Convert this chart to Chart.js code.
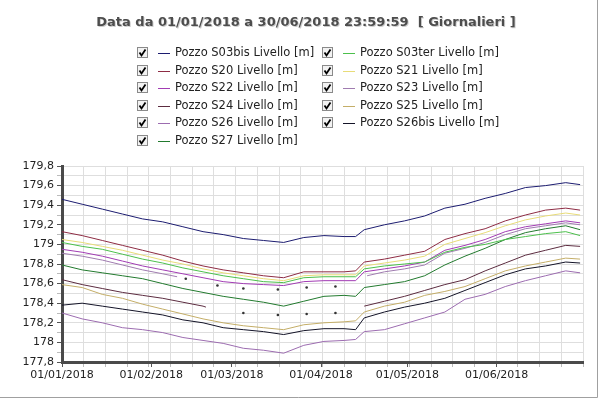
<!DOCTYPE html>
<html>
<head>
<meta charset="utf-8">
<script src="https://cdn.jsdelivr.net/npm/chart.js@4.4.1/dist/chart.umd.min.js"></script>
<style>
html, body { margin: 0; padding: 0; background: #fff; }
#wrap { width: 600px; height: 400px; }
</style>
</head>
<body>
<div id="wrap"><canvas id="chart" width="600" height="400"></canvas></div>
<script>
const titleText = 'Data da 01/01/2018 a 30/06/2018 23:59:59  [ Giornalieri ]';

// days from 01/01/2018
const days = [0, 7, 14, 21, 28, 35, 42, 49, 56, 63, 70, 77, 84, 91, 98, 102, 105, 112, 119, 126, 133, 140, 147, 154, 161, 168, 175, 180];

const s03bis = [179.46, 179.41, 179.36, 179.31, 179.26, 179.23, 179.18, 179.13, 179.10, 179.06, 179.04, 179.02, 179.07, 179.09, 179.08, 179.08, 179.15, 179.20, 179.24, 179.29, 179.37, 179.41, 179.47, 179.52, 179.58, 179.60, 179.63, 179.61];
const s03ter = [179.02, 178.98, 178.95, 178.90, 178.85, 178.81, 178.76, 178.72, 178.68, 178.65, 178.62, 178.61, 178.66, 178.67, 178.67, 178.67, 178.75, 178.78, 178.80, 178.82, 178.92, 178.97, 179.00, 179.05, 179.08, 179.11, 179.13, 179.09];
const s20 = [179.13, 179.09, 179.04, 178.99, 178.94, 178.89, 178.83, 178.78, 178.74, 178.71, 178.68, 178.66, 178.72, 178.72, 178.72, 178.73, 178.82, 178.85, 178.89, 178.93, 179.05, 179.11, 179.16, 179.24, 179.30, 179.35, 179.37, 179.35];
const s21 = [179.05, 179.02, 178.98, 178.94, 178.89, 178.84, 178.80, 178.75, 178.71, 178.68, 178.65, 178.63, 178.68, 178.69, 178.69, 178.69, 178.78, 178.81, 178.84, 178.88, 179.00, 179.06, 179.12, 179.19, 179.25, 179.29, 179.32, 179.30];
const s22 = [178.95, 178.92, 178.88, 178.83, 178.78, 178.74, 178.70, 178.66, 178.62, 178.60, 178.59, 178.58, 178.62, 178.63, 178.63, 178.63, 178.72, 178.75, 178.78, 178.82, 178.94, 178.99, 179.05, 179.13, 179.18, 179.21, 179.24, 179.22];

// S23 and S24 have holes (null) and isolated readings in Feb-Apr
const s23Days = [0, 7, 14, 21, 28, 35, 40, 42, 43, 48, 54, 58, 63, 69, 75, 80, 85, 90, 95, 100, 106, 112, 119, 126, 133, 140, 147, 154, 161, 168, 175, 180];
const s23 = [178.91, 178.88, 178.84, 178.79, 178.74, 178.70, 178.67, null, 178.65, null, 178.58, null, 178.55, null, 178.54, null, 178.56, null, 178.57, null, 178.68, 178.72, 178.75, 178.79, 178.91, 178.96, 179.02, 179.10, 179.16, 179.19, 179.22, 179.20];
const s24Days = [0, 7, 14, 21, 28, 35, 42, 49, 50, 56, 63, 69, 75, 80, 85, 90, 95, 100, 105, 112, 119, 126, 133, 140, 147, 154, 161, 168, 175, 180];
const s24 = [178.64, 178.59, 178.55, 178.51, 178.48, 178.45, 178.41, 178.37, 178.36, null, 178.30, null, 178.28, null, 178.29, null, 178.30, null, 178.37, 178.42, 178.47, 178.53, 178.59, 178.64, 178.73, 178.81, 178.89, 178.94, 178.99, 178.98];

const s25 = [178.59, 178.56, 178.49, 178.45, 178.39, 178.34, 178.29, 178.24, 178.20, 178.17, 178.15, 178.13, 178.18, 178.20, 178.21, 178.22, 178.31, 178.37, 178.41, 178.48, 178.52, 178.57, 178.65, 178.73, 178.78, 178.82, 178.86, 178.85];
const s26 = [178.30, 178.24, 178.20, 178.15, 178.13, 178.10, 178.05, 178.02, 177.99, 177.94, 177.92, 177.89, 177.97, 178.01, 178.02, 178.03, 178.11, 178.13, 178.19, 178.25, 178.31, 178.44, 178.49, 178.57, 178.63, 178.68, 178.73, 178.71];
const s26bis = [178.38, 178.40, 178.37, 178.34, 178.31, 178.28, 178.23, 178.20, 178.15, 178.13, 178.11, 178.08, 178.12, 178.14, 178.14, 178.13, 178.25, 178.31, 178.36, 178.40, 178.45, 178.53, 178.61, 178.69, 178.75, 178.78, 178.82, 178.81];
const s27 = [178.79, 178.74, 178.71, 178.68, 178.65, 178.60, 178.55, 178.51, 178.47, 178.44, 178.41, 178.37, 178.42, 178.47, 178.48, 178.47, 178.56, 178.59, 178.62, 178.68, 178.79, 178.88, 178.96, 179.05, 179.12, 179.16, 179.19, 179.15];

const monthDays = [0, 31, 59, 90, 120, 151];
const monthLabels = ['01/01/2018', '01/02/2018', '01/03/2018', '01/04/2018', '01/05/2018', '01/06/2018'];

const names = [
	'Pozzo S03bis Livello [m]', 'Pozzo S03ter Livello [m]',
	'Pozzo S20 Livello [m]', 'Pozzo S21 Livello [m]',
	'Pozzo S22 Livello [m]', 'Pozzo S23 Livello [m]',
	'Pozzo S24 Livello [m]', 'Pozzo S25 Livello [m]',
	'Pozzo S26 Livello [m]', 'Pozzo S26bis Livello [m]',
	'Pozzo S27 Livello [m]'
];
const colors = ['#1c1c70', '#4cc04c', '#8e2c44', '#e8dc78', '#a23cb4', '#a07cb0', '#5c2c40', '#c4ae68', '#9c6cb0', '#141428', '#227a2e'];
const xs = [days, days, days, days, days, s23Days, s24Days, days, days, days, days];
const ys = [s03bis, s03ter, s20, s21, s22, s23, s24, s25, s26, s26bis, s27];

// grid: 24 equal divisions of the period
const xMax = 181;
const divTicks = [];
for (let i = 0; i <= 24; i++) divTicks.push(i * xMax / 24);

function isolated(ctx) {
	const d = ctx.dataset.data;
	const i = ctx.dataIndex;
	if (d[i].y === null) return 0;
	let prev = i > 0 ? d[i - 1].y : null;
	let next = i < d.length - 1 ? d[i + 1].y : null;
	return (prev === null && next === null) ? 1.3 : 0;
}

function yLabel(v) {
	let s = (Math.round(v * 10) / 10).toFixed(1);
	if (s.endsWith('.0')) s = s.slice(0, -2);
	return s.replace('.', ',');
}

const decor = {
	id: 'decor',
	afterDraw(chart) {
		const c = chart.ctx;
		c.save();
		// title
		c.font = 'bold 13px "DejaVu Sans"';
		c.textAlign = 'center';
		c.textBaseline = 'middle';
		c.shadowColor = 'rgba(0,0,0,0.2)';
		c.shadowOffsetX = 1;
		c.shadowOffsetY = 1;
		c.fillStyle = '#4d4d4d';
		c.fillText(titleText, 306, 23);
		c.shadowColor = 'transparent';

		// legend with checkboxes
		c.font = '11.5px "DejaVu Sans"';
		c.textAlign = 'left';
		chart.data.datasets.forEach((ds, i) => {
			let col = i % 2, row = Math.floor(i / 2);
			let bx = col ? 322 : 137;
			let y = Math.round(53 + row * 17.5);
			c.fillStyle = '#f2f2f2';
			c.fillRect(bx, y - 6, 11, 11);
			c.strokeStyle = '#8a8a8a';
			c.lineWidth = 1;
			c.strokeRect(bx + 0.5, y - 5.5, 10, 10);
			c.strokeStyle = '#000';
			c.lineWidth = 1.8;
			c.beginPath();
			c.moveTo(bx + 2.5, y - 0.5);
			c.lineTo(bx + 4.5, y + 2.5);
			c.lineTo(bx + 8.5, y - 3.5);
			c.stroke();
			let lx = bx + 21;
			c.strokeStyle = ds.borderColor;
			c.lineWidth = 1;
			c.beginPath();
			c.moveTo(lx, y + 0.5);
			c.lineTo(lx + 12, y + 0.5);
			c.stroke();
			c.fillStyle = '#222';
			c.fillText(ds.label, bx + 38, y + 0.5);
		});

		// frame
		c.strokeStyle = '#a0a0a0';
		c.lineWidth = 1;
		c.beginPath();
		c.moveTo(597.5, 0);
		c.lineTo(597.5, 397.5);
		c.lineTo(0, 397.5);
		c.stroke();
		c.restore();
	}
};

const ctx = document.getElementById('chart');
new Chart(ctx, {
	type: 'line',
	data: {
		datasets: names.map((n, k) => ({
			label: n,
			data: xs[k].map((x, i) => ({ x: x, y: ys[k][i] })),
			borderColor: colors[k],
			backgroundColor: colors[k],
			borderWidth: 1,
			pointRadius: isolated,
			pointHoverRadius: 0,
			pointBorderWidth: 0,
			pointBackgroundColor: '#333',
			spanGaps: false,
			tension: 0
		}))
	},
	options: {
		responsive: false,
		animation: false,
		events: [],
		layout: { padding: { left: 0, right: 17, top: 166, bottom: 0 } },
		plugins: {
			legend: { display: false },
			title: { display: false },
			tooltip: { enabled: false }
		},
		scales: {
			x: {
				type: 'linear',
				min: 0,
				max: xMax,
				afterBuildTicks: s => {
					let all = divTicks.concat(monthDays.filter(d => d !== 0));
					all.sort((a, b) => a - b);
					s.ticks = all.map(v => ({ value: v }));
				},
				afterFit: s => { s.height = 38; },
				ticks: {
					autoSkip: false,
					maxRotation: 0,
					padding: 2,
					color: '#222',
					font: { family: '"DejaVu Sans"', size: 11 },
					callback: v => {
						let k = monthDays.indexOf(v);
						return k >= 0 ? monthLabels[k] : '';
					}
				},
				grid: {
					color: c => (c.tick && monthDays.indexOf(c.tick.value) > 0) ? 'rgba(0,0,0,0)' : '#dedede',
					tickColor: c => (c.tick && monthDays.indexOf(c.tick.value) >= 0) ? '#555' : '#bbb',
					tickLength: 5,
					lineWidth: 1
				},
				border: { display: true, color: '#4a4a4a', width: 3 }
			},
			y: {
				min: 177.8,
				max: 179.8,
				afterFit: s => { s.width = 62; },
				ticks: {
					stepSize: 0.1,
					autoSkip: false,
					padding: 3,
					color: '#222',
					font: { family: '"DejaVu Sans"', size: 11 },
					callback: (v, i) => (i % 2 === 0 ? yLabel(v) : '')
				},
				grid: {
					color: '#dedede',
					tickColor: c => (c.index % 2 === 0) ? '#555' : '#bbb',
					tickLength: 5,
					lineWidth: 1
				},
				border: { display: true, color: '#4a4a4a', width: 3 }
			}
		}
	},
	plugins: [decor]
});
</script>
</body>
</html>
